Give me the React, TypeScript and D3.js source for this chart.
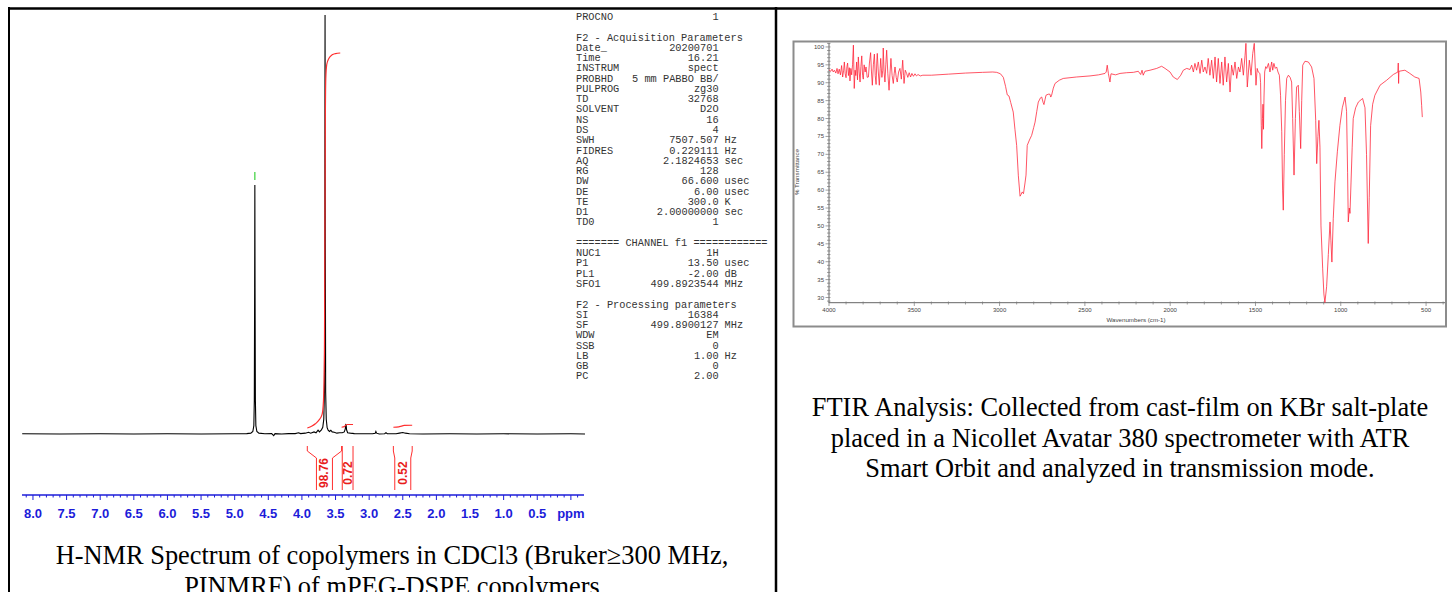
import React from "react";
import * as d3 from "d3";

// ---------------- NMR data ----------------
const nmrSpectrum: [number, number][] = [
  [8.16, 0.05], [7.6, 0.0], [7.0, 0.05], [6.5, 0.0], [6.0, 0.05], [5.5, 0.0], [5.0, 0.05],
  [4.82, 0.1], [4.76, 0.2], [4.73, 0.6], [4.715, 2.0], [4.708, 8], [4.703, 35], [4.7, 59.4],
  [4.697, 35], [4.692, 8], [4.685, 2.0], [4.67, 0.6], [4.64, 0.2], [4.55, 0.05], [4.45, 0.1],
  [4.42, -0.4], [4.4, 0.1], [4.3, 0.0], [4.2, 0.1], [4.1, 0.1], [4.05, 0.3], [4.02, 0.1],
  [3.95, 0.2], [3.9, 0.4], [3.87, 0.2], [3.82, 0.5], [3.79, 0.3], [3.76, 0.9], [3.74, 0.5],
  [3.71, 1.0], [3.69, 1.6], [3.675, 3.5], [3.665, 10], [3.66, 45], [3.656, 100], [3.652, 45],
  [3.647, 10], [3.638, 3.5], [3.625, 1.5], [3.61, 0.9], [3.59, 0.6], [3.57, 0.9], [3.55, 0.5],
  [3.52, 0.4], [3.48, 0.2], [3.44, 0.3], [3.4, 0.3], [3.37, 0.5], [3.355, 1.2], [3.348, 2.2],
  [3.342, 2.1], [3.336, 1.0], [3.32, 0.3], [3.28, 0.2], [3.22, 0.1], [3.1, 0.05], [2.95, 0.05],
  [2.91, 0.2], [2.9, 0.6], [2.89, 0.2], [2.85, 0.0], [2.77, 0.05], [2.75, 0.3], [2.73, 0.05],
  [2.6, 0.05], [2.55, 0.2], [2.5, 0.35], [2.46, 0.2], [2.4, 0.05], [2.2, 0.0], [1.8, 0.05],
  [1.4, 0.0], [1.0, 0.05], [0.5, 0.0], [0.0, 0.05], [-0.21, 0.0],
];

const nmrIntegralA: [number, number][] = [
  [3.92, 0], [3.85, 0.5], [3.8, 1.1], [3.75, 2.0], [3.7, 3.6], [3.68, 7], [3.665, 20],
  [3.658, 50], [3.652, 80], [3.645, 92], [3.63, 95.8], [3.6, 97.3], [3.55, 98.3], [3.5, 98.6],
  [3.43, 98.76],
];
const nmrIntegralB: [number, number][] = [
  [3.41, 0.2], [3.37, 0.35], [3.35, 0.7], [3.33, 0.92], [3.24, 0.92],
];
const nmrIntegralC: [number, number][] = [
  [2.64, 0.2], [2.56, 0.3], [2.52, 0.5], [2.48, 0.68], [2.36, 0.72],
];
const integralRanges: [number, number][] = [[3.92, 3.41], [3.4, 3.24], [2.64, 2.36]];
const integralValues = ["98.76", "0.72", "0.52"];
const peakMarkers = [4.7];

const nmrMajorTicks = [8.0, 7.5, 7.0, 6.5, 6.0, 5.5, 5.0, 4.5, 4.0, 3.5, 3.0, 2.5, 2.0, 1.5, 1.0, 0.5];
const nmrTickLabels = ["8.0", "7.5", "7.0", "6.5", "6.0", "5.5", "5.0", "4.5", "4.0", "3.5", "3.0", "2.5", "2.0", "1.5", "1.0", "0.5"];

const paramLabels = [
  "PROCNO", "", "F2 - Acquisition Parameters", "Date_", "Time", "INSTRUM", "PROBHD", "PULPROG",
  "TD", "SOLVENT", "NS", "DS", "SWH", "FIDRES", "AQ", "RG", "DW", "DE", "TE", "D1", "TD0", "",
  "======= CHANNEL f1 ============", "NUC1", "P1", "PL1", "SFO1", "", "F2 - Processing parameters",
  "SI", "SF", "WDW", "SSB", "LB", "GB", "PC",
];
const paramValues = [
  "1", "", "", "20200701", "16.21", "spect", "5 mm PABBO BB/", "zg30",
  "32768", "D2O", "16", "4", "7507.507", "0.229111", "2.1824653", "128", "66.600", "6.00", "300.0", "2.00000000", "1", "",
  "", "1H", "13.50", "-2.00", "499.8923544", "", "",
  "16384", "499.8900127", "EM", "0", "1.00", "0", "2.00",
];
const paramUnits = [
  "", "", "", "", "", "", "", "",
  "", "", "", "", "Hz", "Hz", "sec", "", "usec", "usec", "K", "sec", "", "",
  "", "", "usec", "dB", "MHz", "", "",
  "", "MHz", "", "", "Hz", "", "",
];

// ---------------- FTIR data ----------------
const ftirSpectrum: [number, number][] = [
  [4000, 93.6], [3990, 93.2], [3982, 93.8], [3975, 93.0], [3968, 93.5], [3960, 92.7], [3953, 94.0], [3947, 92.5],
  [3940, 93.8], [3933, 92.2], [3926, 94.8], [3920, 91.6], [3914, 93.5], [3910, 95.8], [3905, 92.5], [3900, 91.4],
  [3895, 94.5], [3891, 95.5], [3886, 92.0], [3881, 94.2], [3877, 90.5], [3872, 94.0], [3867, 92.2], [3862, 95.0],
  [3857, 100.5], [3852, 88.4], [3847, 93.5], [3843, 92.0], [3838, 95.8], [3833, 90.8], [3828, 97.2], [3823, 93.0],
  [3818, 90.2], [3813, 94.5], [3808, 97.5], [3803, 92.0], [3799, 91.0], [3794, 95.0], [3788, 93.0], [3783, 94.4],
  [3776, 91.5], [3769, 91.6], [3763, 95.5], [3756, 98.4], [3751, 93.0], [3746, 89.3], [3740, 95.0], [3734, 98.0],
  [3729, 92.0], [3724, 89.5], [3720, 95.5], [3717, 98.2], [3711, 93.0], [3705, 89.3], [3700, 94.0], [3697, 96.8],
  [3690, 91.5], [3685, 93.5], [3682, 99.7], [3677, 93.0], [3672, 90.2], [3667, 95.0], [3662, 99.1], [3655, 92.5],
  [3648, 87.9], [3642, 93.0], [3637, 96.8], [3630, 92.0], [3623, 89.8], [3618, 92.5], [3613, 94.4], [3606, 91.5],
  [3600, 90.2], [3592, 93.0], [3584, 94.0], [3576, 91.0], [3568, 96.3], [3563, 92.0], [3560, 89.8], [3553, 93.5],
  [3545, 92.6], [3538, 91.5], [3530, 92.8], [3522, 91.6], [3514, 92.6], [3505, 91.8], [3496, 92.5], [3487, 91.9],
  [3478, 92.3], [3465, 91.9], [3450, 92.1], [3400, 92.1], [3300, 92.4], [3200, 92.7], [3100, 92.9], [3040, 93.0],
  [3017, 92.9], [2995, 92.5], [2978, 91.5], [2965, 89.0], [2955, 86.6], [2945, 86.3], [2935, 84.5], [2920, 81.8],
  [2910, 77.0], [2900, 72.5], [2890, 64.0], [2880, 58.3], [2874, 58.8], [2867, 59.5], [2860, 59.0], [2851, 62.0],
  [2845, 64.2], [2838, 72.5], [2825, 74.0], [2812, 75.3], [2800, 77.5], [2792, 79.0], [2782, 82.0], [2773, 84.6],
  [2760, 85.8], [2753, 86.0], [2745, 84.5], [2740, 83.9], [2734, 85.2], [2728, 86.5], [2715, 86.8], [2705, 86.8],
  [2700, 86.0], [2695, 86.5], [2685, 88.5], [2675, 89.8], [2650, 90.7], [2627, 91.2], [2550, 91.6], [2470, 91.9],
  [2420, 92.2], [2382, 92.6], [2375, 93.0], [2369, 94.9], [2362, 92.5], [2353, 90.2], [2347, 92.5], [2320, 92.2],
  [2294, 92.6], [2255, 92.8], [2216, 92.9], [2187, 93.2], [2173, 92.3], [2165, 93.5], [2158, 92.1], [2148, 93.2],
  [2118, 93.5], [2079, 94.0], [2050, 94.6], [2030, 94.0], [2001, 93.0], [1982, 91.6], [1958, 90.9], [1938, 92.1],
  [1923, 93.5], [1903, 94.0], [1884, 93.7], [1874, 94.9], [1864, 93.0], [1855, 95.4], [1845, 93.5], [1835, 95.8],
  [1825, 92.6], [1815, 96.3], [1806, 93.0], [1796, 94.4], [1786, 92.6], [1777, 96.8], [1767, 92.1], [1757, 96.3],
  [1747, 91.2], [1737, 97.2], [1728, 90.2], [1718, 96.8], [1708, 89.8], [1698, 95.8], [1689, 89.3], [1679, 97.2],
  [1669, 90.2], [1659, 95.4], [1649, 87.4], [1640, 94.9], [1630, 92.1], [1620, 95.8], [1610, 91.2], [1600, 94.4],
  [1591, 93.0], [1581, 96.8], [1571, 92.1], [1561, 97.7], [1556, 101.0], [1548, 88.8], [1536, 96.3], [1526, 92.1],
  [1516, 98.2], [1507, 101.0], [1497, 89.3], [1490, 94.0], [1484, 93.0], [1474, 92.6], [1470, 90.0], [1466, 78.0],
  [1463, 71.6], [1459, 80.0], [1456, 84.0], [1453, 77.0], [1450, 86.0], [1446, 93.0], [1440, 94.5], [1434, 94.0],
  [1424, 95.4], [1415, 93.0], [1405, 95.8], [1399, 93.5], [1392, 95.4], [1384, 94.0], [1376, 94.4], [1368, 93.0],
  [1360, 92.1], [1353, 86.5], [1346, 76.3], [1341, 60.0], [1337, 54.4], [1331, 70.0], [1324, 85.0], [1317, 91.2],
  [1307, 92.1], [1297, 91.5], [1288, 90.2], [1282, 80.0], [1274, 64.2], [1266, 80.0], [1259, 88.8], [1249, 89.3],
  [1243, 82.0], [1235, 71.6], [1229, 85.0], [1223, 94.9], [1210, 96.0], [1190, 95.8], [1171, 94.4], [1157, 91.2],
  [1147, 79.5], [1141, 67.4], [1134, 75.0], [1128, 79.5], [1122, 72.0], [1116, 50.0], [1106, 38.0], [1099, 31.0],
  [1093, 28.6], [1083, 33.0], [1073, 42.0], [1063, 51.1], [1058, 46.0], [1052, 39.9], [1044, 52.0], [1034, 62.3],
  [1020, 70.7], [1005, 78.1], [991, 83.0], [975, 86.0], [966, 82.0], [960, 65.0], [956, 51.1], [950, 55.0],
  [946, 53.5], [940, 62.0], [933, 72.0], [927, 80.0], [913, 83.0], [897, 84.6], [872, 85.6], [858, 83.0],
  [849, 70.0], [839, 45.1], [833, 58.0], [825, 78.0], [813, 84.0], [800, 86.5], [770, 89.3], [731, 90.7],
  [692, 92.3], [665, 93.0], [663, 95.5], [661, 89.8], [659, 93.2], [624, 93.5], [595, 92.6], [566, 91.6],
  [541, 91.2], [531, 87.4], [526, 83.7], [522, 80.4],
];
const ftirXTicks = [4000, 3500, 3000, 2500, 2000, 1500, 1000, 500];
const ftirYTicks = [30, 35, 40, 45, 50, 55, 60, 65, 70, 75, 80, 85, 90, 95, 100];

const nmrCaption = [
  "H-NMR Spectrum of copolymers in CDCl3 (Bruker\u2265300 MHz,",
  "PINMRF) of mPEG-DSPE copolymers",
];
const ftirCaption = [
  "FTIR Analysis: Collected from cast-film on KBr salt-plate",
  "placed in a Nicollet Avatar 380 spectrometer with ATR",
  "Smart Orbit and analyzed in transmission mode.",
];

export default function App() {
  // NMR scales
  const ppm = d3.scaleLinear().domain([8.163, -0.21]).range([22, 585]);
  const inten = d3.scaleLinear().domain([0, 100]).range([434, 15]);
  const integ = d3.scaleLinear().domain([0, 98.76]).range([428, 53]);
  const specLine = d3.line<[number, number]>().x((d) => ppm(d[0])).y((d) => inten(d[1]));
  const intLine = d3
    .line<[number, number]>()
    .x((d) => ppm(d[0]))
    .y((d) => integ(d[1]))
    .curve(d3.curveMonotoneX);
  const minorTicks = d3.range(-2, 82).map((i) => i / 10);

  // FTIR scales
  const wx = d3.scaleLinear().domain([4000, 389]).range([829, 1445]);
  const ty = d3.scaleLinear().domain([28.55, 101.1]).range([302.7, 43]);
  const ftirLine = d3.line<[number, number]>().x((d) => wx(d[0])).y((d) => ty(d[1]));
  const yMinor = d3.range(29, 102);
  const xMinor = d3.range(400, 4001, 100);

  const blue = "#1c1cd9";
  const red = "#ff2f2f";
  const mono = "'Courier New', 'Liberation Mono', monospace";
  const serif = "'Times New Roman', 'Liberation Serif', serif";
  const sans = "Arial, 'Liberation Sans', sans-serif";

  return (
    <svg
      width={1452}
      height={592}
      style={{ position: "absolute", left: 0, top: 0, background: "#fff" }}
    >
      <rect x={0} y={0} width={1452} height={592} fill="#fff" />
      {/* table borders */}
      <line x1={8} x2={1452} y1={8.5} y2={8.5} stroke="#000" strokeWidth={2.5} />
      <line x1={9} x2={9} y1={7} y2={592} stroke="#000" strokeWidth={2} />
      <line x1={776} x2={776} y1={7} y2={592} stroke="#000" strokeWidth={2.5} />

      {/* ---------- NMR ---------- */}
      <path d={specLine(nmrSpectrum) || ""} fill="none" stroke="#000" strokeWidth={1.1} />
      {peakMarkers.map((p, i) => (
        <line key={i} x1={ppm(p)} x2={ppm(p)} y1={172} y2={180} stroke="#3ad13a" strokeWidth={1.2} />
      ))}
      {[nmrIntegralA, nmrIntegralB, nmrIntegralC].map((c, i) => (
        <path key={i} d={intLine(c) || ""} fill="none" stroke={red} strokeWidth={1.2} />
      ))}
      {integralRanges.map((r, i) => {
        const xl = ppm(r[0]);
        const xr = ppm(r[1]);
        const cx = (xl + xr) / 2;
        const il = Math.max(xl, cx - 8);
        const ir = Math.min(xr, cx + 8);
        return (
          <g key={i}>
            <polyline
              points={`${xl},446 ${xl},451 ${il},458 ${il},490`}
              fill="none"
              stroke={red}
              strokeWidth={1}
            />
            <polyline
              points={`${xr},446 ${xr},451 ${ir},458 ${ir},490`}
              fill="none"
              stroke={red}
              strokeWidth={1}
            />
            <text
              transform={`translate(${cx},473) rotate(-90)`}
              textAnchor="middle"
              dominantBaseline="central"
              fontFamily={sans}
              fontWeight="bold"
              fontSize={12}
              fill="#e81c1c"
            >
              {integralValues[i]}
            </text>
          </g>
        );
      })}
      {/* ppm axis */}
      <line x1={22} x2={584} y1={495} y2={495} stroke={blue} strokeWidth={1.3} />
      {minorTicks
        .filter((t) => ppm(t) >= 22 && ppm(t) <= 584)
        .map((t, i) => {
          const major = Math.abs(Math.round(t * 10) % 5) === 0;
          return (
            <line
              key={i}
              x1={ppm(t)}
              x2={ppm(t)}
              y1={495}
              y2={major ? 500 : 497.5}
              stroke={blue}
              strokeWidth={1}
            />
          );
        })}
      {nmrMajorTicks.map((t, i) => (
        <text
          key={i}
          x={ppm(t)}
          y={518}
          textAnchor="middle"
          fontFamily={sans}
          fontWeight="bold"
          fontSize={13}
          fill={blue}
        >
          {nmrTickLabels[i]}
        </text>
      ))}
      <text x={ppm(0)} y={518} textAnchor="middle" fontFamily={sans} fontWeight="bold" fontSize={13} fill={blue}>
        ppm
      </text>

      {/* parameters */}
      <g fontFamily={mono} fontSize={10.3} fill="#333">
        {paramLabels.map((l, i) => {
          const y = 20 + i * 10.27;
          return (
            <g key={i}>
              {l && (
                <text x={576} y={y} style={{ whiteSpace: "pre" }}>
                  {l}
                </text>
              )}
              {paramValues[i] && (
                <text x={718.6} y={y} textAnchor="end" style={{ whiteSpace: "pre" }}>
                  {paramValues[i]}
                </text>
              )}
              {paramUnits[i] && (
                <text x={724.6} y={y}>
                  {paramUnits[i]}
                </text>
              )}
            </g>
          );
        })}
      </g>

      {/* caption NMR */}
      {nmrCaption.map((s, i) => (
        <text key={i} x={392} y={564 + i * 30.5} textAnchor="middle" fontFamily={serif} fontSize={26.4} fill="#000">
          {s}
        </text>
      ))}

      {/* ---------- FTIR ---------- */}
      <defs>
        <clipPath id="ftirClip">
          <rect x={829} y={42} width={617} height={262} />
        </clipPath>
      </defs>
      <rect x={793.5} y={41.5} width={652.5} height={285} fill="#fff" stroke="#8c8c8c" strokeWidth={2} />
      <line x1={829} x2={829} y1={43} y2={303} stroke="#666" strokeWidth={1} />
      <line x1={829} x2={1445} y1={302.7} y2={302.7} stroke="#666" strokeWidth={1} />
      {yMinor.map((v) => (
        <line
          key={v}
          x1={v % 5 === 0 ? 825.5 : 827}
          x2={830.5}
          y1={ty(v)}
          y2={ty(v)}
          stroke="#777"
          strokeWidth={0.7}
        />
      ))}
      {xMinor.map((v) => (
        <line
          key={v}
          x1={wx(v)}
          x2={wx(v)}
          y1={301.5}
          y2={v % 500 === 0 ? 306 : 304.5}
          stroke="#777"
          strokeWidth={0.7}
        />
      ))}
      {ftirYTicks.map((v) => (
        <text key={v} x={824} y={ty(v) + 2} textAnchor="end" fontFamily={sans} fontSize={6} fill="#444">
          {v}
        </text>
      ))}
      {ftirXTicks.map((v) => (
        <text key={v} x={wx(v)} y={312} textAnchor="middle" fontFamily={sans} fontSize={6} fill="#444">
          {v}
        </text>
      ))}
      <text x={1136} y={322} textAnchor="middle" fontFamily={sans} fontSize={6.2} fill="#444">
        Wavenumbers (cm-1)
      </text>
      <text
        transform="translate(799,172) rotate(-90)"
        textAnchor="middle"
        fontFamily={sans}
        fontSize={6.2}
        fill="#444"
      >
        % Transmittance
      </text>
      <path
        d={ftirLine(ftirSpectrum) || ""}
        fill="none"
        stroke="#ff1f35"
        strokeOpacity={0.85}
        strokeWidth={0.9}
        clipPath="url(#ftirClip)"
      />

      {ftirCaption.map((s, i) => (
        <text key={i} x={1120} y={416 + i * 30.5} textAnchor="middle" fontFamily={serif} fontSize={26.4} fill="#000">
          {s}
        </text>
      ))}
    </svg>
  );
}
